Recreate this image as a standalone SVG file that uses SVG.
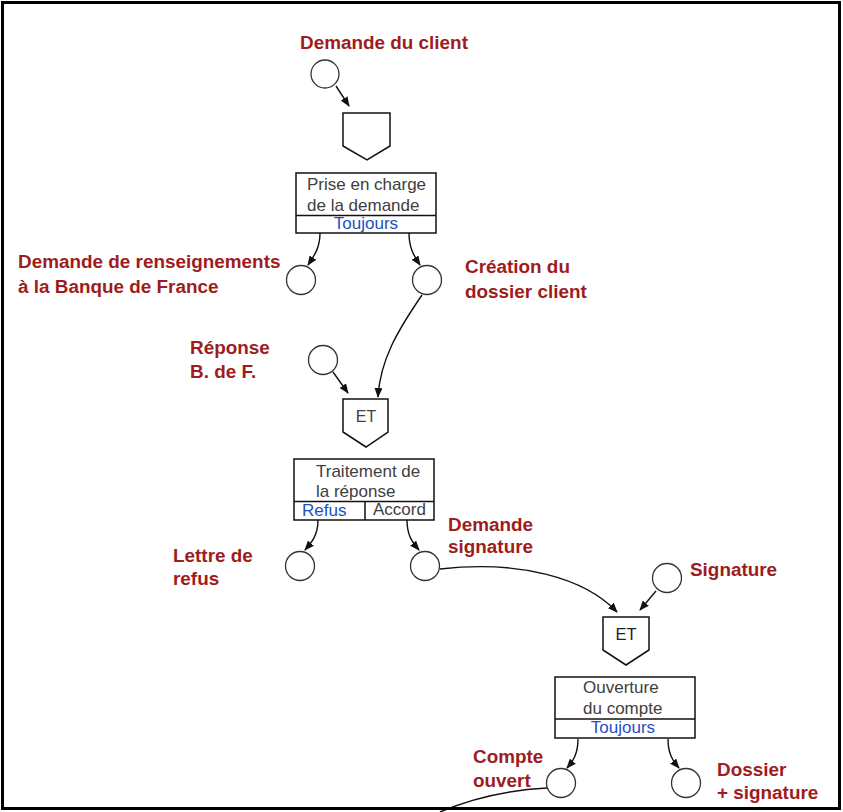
<svg xmlns="http://www.w3.org/2000/svg" width="843" height="812" viewBox="0 0 843 812">
<defs>
<style>
.lbl{font-family:"Liberation Sans",Arial,sans-serif;font-weight:bold;font-size:18.9px;fill:#9e1c1c}
.txt{font-family:"Liberation Sans",Arial,sans-serif;font-size:17px;fill:#404040}
.blue{font-family:"Liberation Sans",Arial,sans-serif;font-size:17px;fill:#1f50c0}
.ev{fill:#fff;stroke:#333;stroke-width:1.3}
.shape{fill:#fff;stroke:#111;stroke-width:1.5}
.con{fill:none;stroke:#111;stroke-width:1.4}
</style>
<marker id="arr" markerUnits="userSpaceOnUse" markerWidth="10" markerHeight="8" refX="9" refY="4" orient="auto" viewBox="0 0 10 8">
<path d="M0,0 L10,4 L0,8 z" fill="#111"/>
</marker>
</defs>
<rect x="0" y="0" width="843" height="812" fill="#fff"/>

<g id="connectors">
<path class="con" d="M336,86 L349,106" marker-end="url(#arr)"/>
<path class="con" d="M320,233 C320,248 314,256 308,265" marker-end="url(#arr)"/>
<path class="con" d="M409,233 C409,248 414,256 420,265" marker-end="url(#arr)"/>
<path class="con" d="M422,295 C398,330 380,360 378,397" marker-end="url(#arr)"/>
<path class="con" d="M333,372 L348,393" marker-end="url(#arr)"/>
<path class="con" d="M318,520 C318,535 312,542 305,550" marker-end="url(#arr)"/>
<path class="con" d="M407,520 C407,535 412,542 419,550" marker-end="url(#arr)"/>
<path class="con" d="M440,569 C520,560 585,578 617,612" marker-end="url(#arr)"/>
<path class="con" d="M656,591 L640,610" marker-end="url(#arr)"/>
<path class="con" d="M578,739 C578,754 573,761 567,768" marker-end="url(#arr)"/>
<path class="con" d="M668,739 C668,754 673,761 679,768" marker-end="url(#arr)"/>
<path class="con" d="M547,788 C510,790 475,797 440,812"/>
</g>

<g id="ev-demande-client">
<circle class="ev" cx="325" cy="74" r="14"/>
<text class="lbl" x="300" y="49">Demande du client</text>
</g>

<g id="op-1">
<path class="shape" d="M343,113 H390 V146 L367,160 L343,146 Z"/>
</g>

<g id="fn-prise-en-charge">
<rect class="shape" x="296" y="173" width="140" height="60"/>
<line class="shape" x1="296" y1="215.5" x2="436" y2="215.5"/>
<text class="txt" x="307" y="190">Prise en charge</text>
<text class="txt" x="307" y="211">de la demande</text>
<text class="blue" x="366" y="229" text-anchor="middle">Toujours</text>
</g>

<g id="ev-renseignements">
<circle class="ev" cx="301" cy="280" r="14.5"/>
<text class="lbl" x="18" y="268">Demande de renseignements</text>
<text class="lbl" x="18" y="293">à la Banque de France</text>
</g>

<g id="ev-creation-dossier">
<circle class="ev" cx="427" cy="280" r="14.5"/>
<text class="lbl" x="465" y="273">Création du</text>
<text class="lbl" x="465" y="298">dossier client</text>
</g>

<g id="ev-reponse">
<circle class="ev" cx="323" cy="360" r="14.5"/>
<text class="lbl" x="190" y="354">Réponse</text>
<text class="lbl" x="190" y="378">B. de F.</text>
</g>

<g id="op-et-1">
<path class="shape" d="M343,399 H388 V432 L366,447 L343,432 Z"/>
<text class="txt" x="366" y="422" text-anchor="middle" style="font-size:16px">ET</text>
</g>

<g id="fn-traitement">
<rect class="shape" x="294" y="459" width="140" height="61"/>
<line class="shape" x1="294" y1="501.5" x2="434" y2="501.5"/>
<line class="shape" x1="365" y1="501.5" x2="365" y2="520"/>
<text class="txt" x="316" y="477">Traitement de</text>
<text class="txt" x="316" y="497">la réponse</text>
<text class="blue" x="302" y="516">Refus</text>
<text class="txt" x="373" y="515">Accord</text>
</g>

<g id="ev-lettre-refus">
<circle class="ev" cx="300" cy="566" r="14.5"/>
<text class="lbl" x="173" y="562">Lettre de</text>
<text class="lbl" x="173" y="585">refus</text>
</g>

<g id="ev-demande-signature">
<circle class="ev" cx="425" cy="566" r="14.5"/>
<text class="lbl" x="448" y="531">Demande</text>
<text class="lbl" x="448" y="553">signature</text>
</g>

<g id="ev-signature">
<circle class="ev" cx="667" cy="578" r="14.5"/>
<text class="lbl" x="690" y="576">Signature</text>
</g>

<g id="op-et-2">
<path class="shape" d="M603,617 H649 V650 L626,665 L603,650 Z"/>
<text class="txt" x="626" y="640" text-anchor="middle" style="font-size:16.5px;fill:#222">ET</text>
</g>

<g id="fn-ouverture">
<rect class="shape" x="555" y="677" width="140" height="61"/>
<line class="shape" x1="555" y1="719" x2="695" y2="719"/>
<text class="txt" x="583" y="693">Ouverture</text>
<text class="txt" x="583" y="714">du compte</text>
<text class="blue" x="623" y="733" text-anchor="middle">Toujours</text>
</g>

<g id="ev-compte-ouvert">
<circle class="ev" cx="561" cy="783" r="14.5"/>
<text class="lbl" x="473" y="763">Compte</text>
<text class="lbl" x="473" y="787">ouvert</text>
</g>

<g id="ev-dossier-signature">
<circle class="ev" cx="686" cy="783" r="14.5"/>
<text class="lbl" x="717" y="776">Dossier</text>
<text class="lbl" x="717" y="799">+ signature</text>
</g>

<rect x="2.5" y="2.5" width="837" height="806" fill="none" stroke="#000" stroke-width="3"/>
</svg>
